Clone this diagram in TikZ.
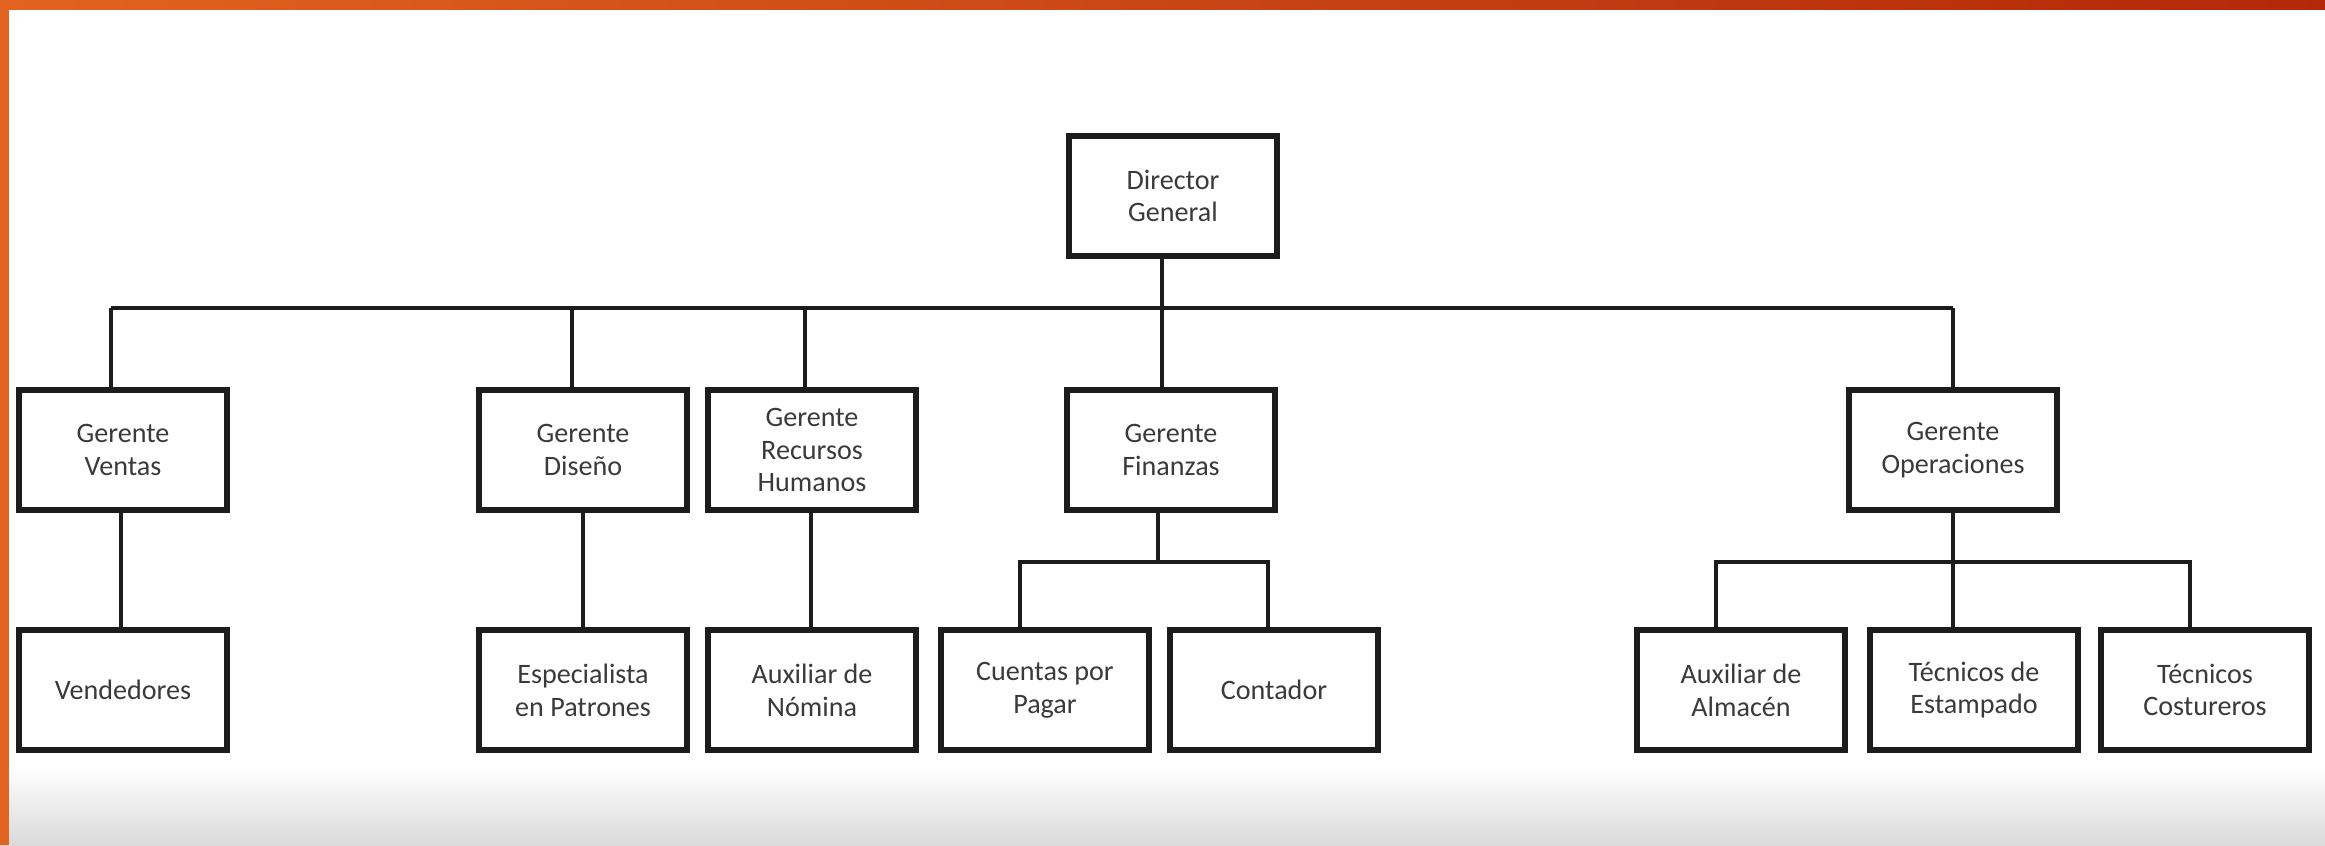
\documentclass[tikz,border=0pt]{standalone}
\usepackage{fontspec}
\setmainfont{Carlito}
\usetikzlibrary{calc}
\definecolor{orangeA}{HTML}{E2631F}
\definecolor{orangeB}{HTML}{B3280A}
\definecolor{txt}{HTML}{3A3A3A}
\definecolor{ln}{HTML}{1C1C1C}
\definecolor{floor}{HTML}{DADADA}
\tikzset{
  box/.style={draw=ln, line width=1.45pt, fill=white, minimum width=20.8mm, minimum height=12mm,
    inner sep=1pt, align=center, text=txt, font=\fontsize{8}{9.3}\selectfont},
  conn/.style={draw=ln, line width=1.3pt},
}
\begin{document}
\begin{tikzpicture}[x=0.1mm,y=-0.1mm]
\useasboundingbox (0,0) rectangle (2325,845);
\fill[white] (0,0) rectangle (2325,845);
\shade[top color=white, bottom color=floor] (0,765) rectangle (2325,845);
\shade[left color=orangeA, right color=orangeB] (0,0) rectangle (2325,9);
\fill[orangeA] (0,0) rectangle (9,845);

\node[box] (dg) at (1173,196) {Director\\General};

\node[box] (ven) at (123,450) {Gerente\\Ventas};
\node[box] (dis) at (583,450) {Gerente\\Diseño};
\node[box] (rh)  at (812,450) {Gerente\\Recursos\\Humanos};
\node[box] (fin) at (1171,450) {Gerente\\Finanzas};
\node[box] (ope) at (1953,450) {Gerente\\Operaciones};

\node[box] (vend) at (123,690) {Vendedores};
\node[box] (esp)  at (583,690) {Especialista\\en Patrones};
\node[box] (aux)  at (812,690) {Auxiliar de\\Nómina};
\node[box] (cue)  at (1045,690) {Cuentas por\\Pagar};
\node[box] (con)  at (1274,690) {Contador};
\node[box] (alm)  at (1741,690) {Auxiliar de\\Almacén};
\node[box] (est)  at (1974,690) {Técnicos de\\Estampado};
\node[box] (cos)  at (2205,690) {Técnicos\\Costureros};

\coordinate (bus) at (0,308);
\coordinate (fbus) at (0,562);

% top level
\draw[conn] (1162,0 |- dg.south) -- (1162,0 |- bus);
\draw[conn] (111,0 |- bus) -- (1953,0 |- bus);
\draw[conn] (111,0 |- bus) -- (111,0 |- ven.north);
\draw[conn] (572,0 |- bus) -- (572,0 |- dis.north);
\draw[conn] (805,0 |- bus) -- (805,0 |- rh.north);
\draw[conn] (1162,0 |- bus) -- (1162,0 |- fin.north);
\draw[conn] (1953,0 |- bus) -- (1953,0 |- ope.north);

% single children
\draw[conn] (121,0 |- ven.south) -- (121,0 |- vend.north);
\draw[conn] (583,0 |- dis.south) -- (583,0 |- esp.north);
\draw[conn] (811,0 |- rh.south) -- (811,0 |- aux.north);

% finanzas
\draw[conn] (1158,0 |- fin.south) -- (1158,0 |- fbus);
\draw[conn] (1020,0 |- cue.north) -- (1020,0 |- fbus) -- (1268,0 |- fbus) -- (1268,0 |- con.north);

% operaciones
\draw[conn] (ope.south) -- (ope.south |- est.north);
\draw[conn] (1716,0 |- alm.north) -- (1716,0 |- fbus) -- (2190,0 |- fbus) -- (2190,0 |- cos.north);
\end{tikzpicture}
\end{document}
